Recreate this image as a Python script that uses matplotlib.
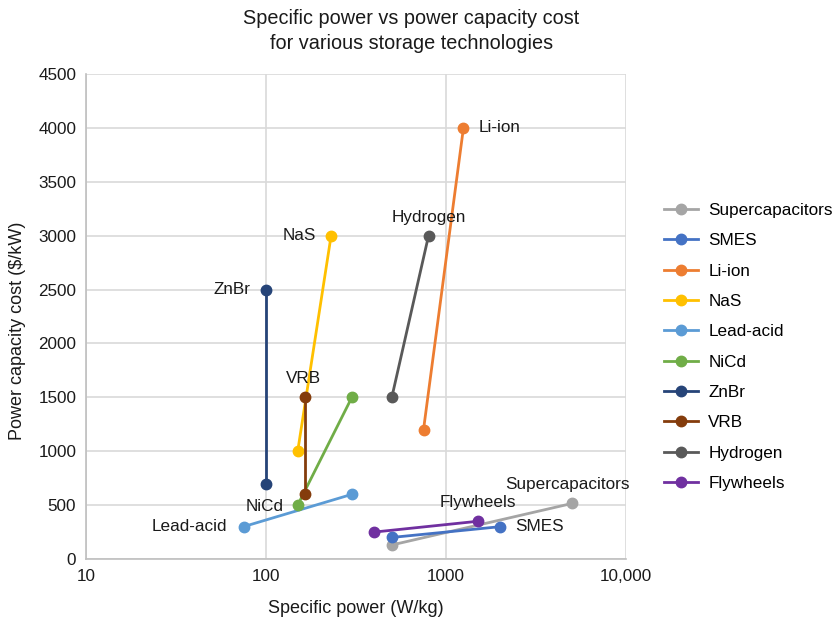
import matplotlib

matplotlib.use("Agg")

import matplotlib.pyplot as plt
from matplotlib.ticker import FixedLocator, FuncFormatter

plt.rcParams["font.family"] = ["Liberation Sans", "DejaVu Sans"]

technologies = ["Supercapacitors", "SMES", "Li-ion", "NaS", "Lead-acid",
                "NiCd", "ZnBr", "VRB", "Hydrogen", "Flywheels"]
power_low = [500, 500, 750, 150, 75, 150, 100, 165, 500, 400]
power_high = [5000, 2000, 1250, 230, 300, 300, 100, 165, 800, 1500]
cost_low = [130, 200, 1200, 1000, 300, 500, 700, 600, 1500, 250]
cost_high = [515, 300, 4000, 3000, 600, 1500, 2500, 1500, 3000, 350]
colors = ["#A5A5A5", "#4472C4", "#ED7D31", "#FFC000", "#5B9BD5",
          "#70AD47", "#264478", "#843C0C", "#595959", "#7030A0"]

# which end gets the data label, and where it sits (offset in points, alignment)
label_end = ["high", "high", "high", "high", "low",
             "low", "high", "high", "high", "high"]
label_pos = {
    "Supercapacitors": ((-3, 8), "center", "bottom"),
    "SMES": ((11, 0), "left", "center"),
    "Li-ion": ((11, 0), "left", "center"),
    "NaS": ((-11, 0), "right", "center"),
    "Lead-acid": ((-12, 0), "right", "center"),
    "NiCd": ((-10, -1), "right", "center"),
    "ZnBr": ((-11, 0), "right", "center"),
    "VRB": ((-1, 8), "center", "bottom"),
    "Hydrogen": ((0, 8), "center", "bottom"),
    "Flywheels": ((0, 8), "center", "bottom"),
}

fs = 12.3
fig = plt.figure(figsize=(8.39, 6.23), dpi=100)
ax = fig.add_axes([86 / 839, 1 - 559 / 623, 540 / 839, 485 / 623])

handles = []
for i, name in enumerate(technologies):
    xs = [power_low[i], power_high[i]]
    ys = [cost_low[i], cost_high[i]]
    (h,) = ax.plot(xs, ys, color=colors[i], linewidth=2, marker="o",
                   markersize=7.5, label=name, zorder=3)
    handles.append(h)
    if label_end[i] == "high":
        px, py = power_high[i], cost_high[i]
    else:
        px, py = power_low[i], cost_low[i]
    offset, ha, va = label_pos[name]
    ax.annotate(name, (px, py), xytext=offset, textcoords="offset points",
                ha=ha, va=va, fontsize=fs, color="#1a1a1a", zorder=4)

ax.set_xscale("log")
ax.set_xlim(10, 10000)
ax.set_ylim(0, 4500)
ax.xaxis.set_major_locator(FixedLocator([10, 100, 1000, 10000]))
ax.xaxis.set_minor_locator(FixedLocator([]))
ax.xaxis.set_major_formatter(FuncFormatter(lambda v, p: f"{int(v):,}" if v >= 10000 else f"{int(v)}"))
ax.set_yticks(range(0, 4501, 500))

ax.grid(True, color="#D9D9D9", linewidth=1.2, zorder=0)
ax.set_axisbelow(True)
for side in ["top", "right"]:
    ax.spines[side].set_visible(False)
for side in ["left", "bottom"]:
    ax.spines[side].set_color("#BFBFBF")
    ax.spines[side].set_linewidth(1.2)
ax.tick_params(length=0, labelsize=fs, colors="#1a1a1a", pad=7)

ax.set_xlabel("Specific power (W/kg)", fontsize=13, color="#1a1a1a", labelpad=12)
ax.set_ylabel("Power capacity cost ($/kW)", fontsize=13, color="#1a1a1a")
ax.yaxis.set_label_coords(-0.112, 0.47)

fig.text(0.49, 0.985, "Specific power vs power capacity cost\nfor various storage technologies",
         ha="center", va="top", fontsize=14.3, color="#1a1a1a", linespacing=1.4)

fig.legend(handles=handles, loc="center left", bbox_to_anchor=(0.773, 0.443),
           frameon=False, fontsize=fs, handlelength=2.0, labelspacing=0.9,
           handletextpad=0.6)

fig.savefig("out.png", dpi=100)
